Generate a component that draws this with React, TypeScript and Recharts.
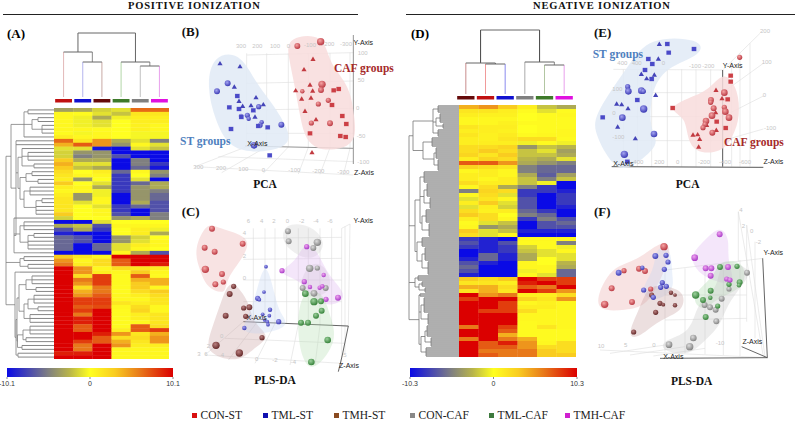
import React from 'react';
import { ScatterChart, Scatter, XAxis, YAxis, ReferenceLine, ReferenceArea } from 'recharts';

type Tuple = number[];
type Seg = [number, number, number, number];
type Lab = [number, number, string];
type TreeNode = [number, ...(TreeNode | number)[]];

// heatmap rows, one value per sample group, read top to bottom
const heatRowsA = [
  [-3.5, -3, -1.5, -1, 6.5, 6.5], [0.5, 0.3, -1, -2, 1.5, 1.5], [0.5, -0.5, -3, -0.5, 1, 1], [0.5, -0.5, -1, 0, 1, 1],
  [0.5, -0.5, -1, 0, 0.8, 0.5], [0.5, 0.5, 0.3, 0, 0.8, 0.5], [0.3, -0.3, 0.5, 0, -0.3, -0.3], [1, 0.5, 0.5, 0, -0.3, -0.3],
  [6.5, 1.5, 5, -3, -1, -5], [4, 7, 5, -4, 0.5, -1], [-1, -1, -9.5, -10, -1, -2], [-1.5, -4, -4, -10, -10, -10],
  [-1.5, -5, -4, -7, -10, -10], [3, -3, -3, -10, -5, -10], [4, -1, -1, -10, -5, -8], [3, -2, -3, -10, -6, -9.5],
  [2, 0, 1, -6, 0.5, -4], [1.5, 0.5, 0.5, -8, 0, -5], [1, -4, 0, -8, -1, -10], [3, 0, -1, -8, -6, -3],
  [1, 0.5, -3, -8, -4, -3], [0.5, 0.5, -0.5, -8, -4, -5], [1, -4, -0.5, -10, -4, -6], [1.5, -4, 0.5, -10, -4, -6],
  [1.5, -1, 0.5, -10, -3, -7], [1.5, 0, -1, -8, -6, -7], [1.5, 0, 0.5, -8, -10, -7], [3, 0, 0.5, -7, -10, -5],
  [-1.5, 0, 0, -4, -3, -5], [-10, -10, -1, 0, 0, 0], [-3, -2, -7, 0.5, 0.5, 0.5], [-7, -3, -8, 0, 1, -0.5],
  [-9, -10, -10, 0, 1, -3], [-6, -7, -10, -4, -1.5, 0], [-6, -7, -10, -4, -1, 0.5], [-6, -10, -6, -1, 1, 0.5],
  [-6, -10, -6, -1, 0.5, 0], [-10, -10, -10, 0.5, -3, -7], [3, 1.5, 0.5, 10, 10, 10], [5, 0.5, 2, 7, 10, 10],
  [6, 1, 2, 7, 10, 9], [10, 5, 0.5, 2, 1.5, 1], [10, 5, 1, 0.5, 3, 0.5], [10, 2, 8, 0.3, 7, 0.3],
  [10, 6, 8, 0.3, 4, 4], [10, 5, 8, 0.3, 3, 4], [10, 2, 6, 0.3, 3, 0.5], [10, 4, 6, 0.3, 2, 3],
  [10, 5, 7, 0.5, 1, 2], [10, 8, 8, 0.5, 0.5, 1.5], [10, 8, 8, 1.5, 1, 1.5], [10, 7, 7.5, 0.5, 2, 0.5],
  [10, 8, 10, 0.3, 2.5, 0.5], [10, 6, 10, 0.3, 1, 1.5], [10, 9, 10, 0.3, 1, 1.5], [10, 9, 10, 0.3, 0.5, 1.5],
  [10, 7, 10, 0.3, 7, 2], [10, 7, 10, 1, 7, 8], [10, 10, 9, 5, 1.5, 4], [10, 10, 7, 2, 2, 5],
  [10, 8, 7, 4, 1.5, 5], [10, 6, 10, 5, 1, 1], [10, 6, 10, 0.5, 0.5, 0.5], [9, 9, 10, 0.5, 0.5, 0.5], [10, 10, 10, 0.5, 0.5, 0.5],
];

const heatRowsD = [
  [4, 5, 3, 1, -2, -3], [1.5, 1.5, 1, 0.3, -1, 0.3], [1, 0.8, 0.8, 0, 0.3, 0.5], [0.5, 0.5, 0.5, 0, 0.3, 0.3],
  [0.5, 0.5, 0.8, 0.3, 0.3, 0.3], [1.5, 1, 1, 0, 0.3, 0.3], [1, 1, 0.8, 0, 0.3, 0.5], [1.5, 0.8, 1.2, 0.3, 0.5, 0.5],
  [1, 0.8, 1.5, 2, 2, 0.3], [1, 1, 1, -0.5, 0.3, -0.5], [2, 2, 2.5, -4, -2, -2.5], [2, 3, 2, -2, -1, -3.5],
  [2.5, 1.5, 3, -2, -2, -3], [1, 2.5, 2, -2.5, -3, -1], [7, 7, 5, -3, -4, -5], [2.5, 2, 1.5, -5, -6, -6],
  [0.5, 1, 0.5, -5, -6, -6], [1, 1, 0.5, -3, -6.5, -3.5], [1, 0.5, 1, -2, -5, -2], [2, 1, 1, -2, -0.5, -10],
  [0.5, 2, -3, -5, -8, -10], [-5, 2.5, 2, -8, -8, -9], [0.5, 2, -1, -8, -10, -8], [-1, 1.5, 0.5, -7, -10, -8],
  [1, 3, -1, -7, -10, -8], [-1, 1, -1.5, -7, -10, -9], [2, 0.8, 1, -6, -8, -10], [3, 2, 0, -5, -6, -10],
  [1, 2, 0.5, -8, -5, -7], [0.3, -1, -2, -10, -7, -6], [0.5, -4, -3, -10, -7, -7], [3, -1, -2, -9, -9, -9],
  [2, -1, 0.5, -10, -10, -10], [-8, -9, -10, 0.5, 0.5, 0.5], [-7, -9, -7, 0.3, 0.3, -5], [-8, -9, -8, -1.5, 0.3, -0.5],
  [-10, -9, -8, -2, -1, 0.5], [-10, -6, -9, -3, -1, -1], [-9, -6, -9, -3, 0, -1], [-7, -9, -10, 0.5, 0, -2.5],
  [-6, -10, -10, 0.5, 0.5, -3], [-7, -10, -10, -0.5, 0.5, -6], [-9, -10, -10, 0.5, -1, -6], [3, 2, 3, 10, 8, 8],
  [1.5, 1.5, 1, 9, 10, 8], [4, 4, 2, 7, 6, 10], [1.5, 4, 1.5, 10, 8, 5], [10, 5, 6, 1, 1, 2],
  [8, 10, 10, 2.5, 1.5, 5], [10, 10, 8, 0.5, 0.8, 0.5], [10, 10, 8, 1, 1, 0.5], [10, 8, 8, 2, 0.5, 0.5],
  [10, 10, 10, 0.5, 0.5, 0.5], [10, 10, 10, 0.5, 0.5, 0.5], [10, 10, 10, 0.3, 0.5, 0.5], [6, 10, 8, 0.3, 1.5, 0.5],
  [10, 10, 7, 0.3, 0.3, 0.3], [10, 10, 4, 0.3, 0.3, 0.3], [6, 10, 6, 4, 0.3, 0.3], [10, 7, 9, 5, 0.5, 2],
  [10, 7, 7, 5, 2, 2], [10, 6, 6, 6, 3, 2], [10, 7, 6, 6, 3, 3],
];

// row dendrograms: [depth, ...children], a plain number is that many leaves
const rowTreeA: TreeNode = [6,
  [11,
    [24, [28, 2], [32, [38, 2], [42, 3]], 1],
    [16, 2,
      [18, [22, 1, [28, 3], [34, 2]], [20, [26, [32, 2], [38, 2]], [24, [30, 3], [36, [42, 2], 3]]]],
      [14, 1, [20, [24, 3], [28, [34, 2], 3]], [40, 1]]],
  ],
  [20, [24, 2], [28, 2]],
  [15, [20, 1], [16, [17, [19, [26, [32, 3], [36, 2]], [24, [28, [34, 3], [38, 2]], [30, 3]]], [17.5, [23, [30, 3], [26, 2]], [22, 2]]], [18, 2]]],
];

const rowTreeD: TreeNode = [9,
  [13,
    [33, [38, 4], [36, [40, 5], [43, 3]], [38, 4]],
    [23, [32, 5], [34, [36, 6], [38, 6]]],
  ],
  [15,
    [20, [24, 6], [24, [27, 7], [30, 6]], [22, [26, 7], [29, 7]]],
    [17, [22, 5], [22, [25, 7], [28, 7]]],
  ],
  [15, [18, 3], [19, [22, 3], [25, 3]]],
  [19, [20, 2], [21, [24, 8], [28, 6]], [21, [25, [27, 6], [31, 5]], [26, 5]]],
];

// column dendrograms: left x, right x, height, left child height, right child height, stems
const colMergesA: [number, number, number, number, number, string, string][] = [
  [1.25, 4.25, 64, 45, 35, '#666', '#666'],
  [0.5, 2, 45, 0, 35, '#e2b8b8', '#8a8a8a'],
  [1.5, 2.5, 35, 0, 0, '#b4b4ee', '#c8aaa4'],
  [3.5, 5, 35, 0, 31, '#b2d6a8', '#8a8a8a'],
  [4.5, 5.5, 31, 0, 0, '#c0c0c0', '#e8a0ec'],
];
const colMergesD: [number, number, number, number, number, string, string][] = [
  [1.25, 4.25, 64, 31, 32, '#444', '#444'],
  [0.5, 2, 31, 0, 30, '#c88c8c', '#555'],
  [1.5, 2.5, 30, 0, 0, '#f09a9a', '#8a8aee'],
  [3.5, 5, 32, 0, 29, '#aaa', '#888'],
  [4.5, 5.5, 29, 0, 0, '#b2c6a2', '#e8a0ec'],
];
const colBarsA = ['#c01010', '#1010d0', '#650a0a', '#3e7a2a', '#808080', '#e010e0'];
const colBarsD = ['#650a0a', '#c01010', '#1010d0', '#808080', '#3e7a2a', '#e010e0'];

const colourStops: [number, string][] = [
  [-10, '#0a0ae6'], [-5, '#808080'], [-2.5, '#b8b44a'], [0, '#ffff20'], [3, '#f9cc20'], [6, '#e8791a'], [10, '#db0000'],
];
const rangeA = [-10.1, 0, 10.1];
const rangeD = [-10.3, 0, 10.3];

// (B) PCA positive, projected positions x, y and sphere size
const bHullBlue: Tuple[] = [[112, 105], [195, 95], [240, 185], [285, 240], [350, 340], [335, 385], [230, 400], [160, 380], [120, 300], [95, 200]];
const bHullRed: Tuple[] = [[335, 50], [450, 40], [460, 130], [525, 195], [540, 300], [545, 385], [400, 400], [375, 290], [360, 200], [340, 110]];
const bBlueSpheres: Tuple[] = [[158, 190, 8], [126, 214, 8], [251, 260, 7], [217, 286, 7], [221, 296, 6], [198, 288, 6], [260, 307, 6], [255, 316, 7], [319, 314, 8], [237, 376, 9]];
const bBlueSquares: Tuple[] = [[187, 228], [163, 262], [168, 327], [192, 267], [199, 291], [235, 271], [278, 322], [284, 406], [250, 318]];
const bBlueTriangles: Tuple[] = [[135, 130], [195, 139], [178, 200], [243, 232], [192, 243], [203, 258], [228, 256], [265, 253], [240, 290]];
const bRedSpheres: Tuple[] = [[367, 78, 8], [437, 65, 10], [441, 193, 10], [438, 210, 8], [382, 214, 6], [460, 241, 7], [430, 252, 7], [409, 309, 7], [465, 310, 8]];
const bRedSquares: Tuple[] = [[476, 211], [491, 207], [471, 255], [502, 288], [514, 312], [405, 340], [496, 348], [512, 351]];
const bRedTriangles: Tuple[] = [[414, 117], [387, 148], [405, 194], [362, 211], [413, 212], [380, 236], [408, 233], [390, 273], [423, 298], [411, 397]];
const bGrid: Seg[] = [
  [215, 105, 535, 98], [215, 190, 535, 183], [215, 270, 535, 265], [215, 340, 535, 340],
  [215, 100, 215, 380], [275, 100, 275, 380], [340, 100, 340, 380], [400, 100, 400, 382], [465, 100, 465, 382], [525, 98, 525, 385],
  [215, 380, 60, 440], [275, 380, 140, 458], [340, 381, 265, 460], [400, 382, 370, 462], [465, 383, 435, 463], [525, 385, 505, 465],
  [60, 440, 535, 465], [130, 410, 535, 425],
];
const bAxes: Seg[] = [[210, 378, 535, 385], [535, 45, 535, 385], [535, 385, 535, 432]];
const bTicks: Lab[] = [[198, 83, '300'], [247, 83, '200'], [300, 83, '100'], [340, 83, '0'], [405, 81, '-100'], [460, 79, '-200'], [513, 79, '-300'], [563, 104, '100'], [558, 187, '50'], [548, 270, '0'], [558, 353, '-50'], [565, 432, '-100'], [70, 446, '300'], [138, 451, '200'], [205, 453, '100'], [265, 456, '0'], [358, 457, '-100'], [430, 459, '-200'], [505, 462, '-300']];
const bAxisNames: Lab[] = [[247, 377, 'X-Axis'], [565, 76, 'Y-Axis'], [567, 464, 'Z-Axis']];

// (C) PLS-DA positive
const cHulls: [string, Tuple[]][] = [
  ['#e8a8a8', [[95, 65], [130, 85], [225, 110], [215, 160], [150, 240], [155, 285], [95, 265], [75, 210], [55, 150]]],
  ['#c89c9c', [[165, 235], [205, 280], [225, 320], [235, 370], [290, 410], [235, 445], [190, 490], [90, 460], [105, 400], [140, 300]]],
  ['#c0d4f2', [[272, 170], [300, 290], [315, 340], [345, 375], [285, 400], [190, 405], [225, 335], [245, 275]]],
  ['#cccccc', [[325, 70], [405, 70], [460, 130], [415, 185], [355, 160], [320, 125]]],
  ['#cccccc', [[400, 185], [450, 190], [480, 270], [410, 300], [365, 270]]],
  ['#dcb0f0', [[390, 120], [430, 155], [460, 230], [525, 290], [465, 325], [405, 290], [380, 240], [300, 220], [365, 185]]],
  ['#b0dcae', [[375, 270], [445, 270], [465, 350], [490, 420], [420, 515], [385, 490], [365, 400]]],
];
const cRed: Tuple[] = [[111, 86, 8], [203, 131, 8], [89, 143, 8], [119, 155, 8], [91, 208, 10], [141, 222, 8], [121, 253, 8], [145, 246, 7]];
const cBrown: Tuple[] = [[176, 259, 7], [164, 282, 8], [223, 322, 8], [206, 324, 7], [152, 347, 8], [212, 349, 7], [261, 413, 7], [123, 436, 10], [193, 459, 10]];
const cBlue: Tuple[] = [[273, 200, 5], [267, 276, 5], [248, 295, 7], [253, 299, 5], [285, 329, 6], [263, 343, 5], [283, 347, 5], [269, 360, 5], [277, 365, 5], [279, 374, 5], [311, 365, 7], [208, 384, 6]];
const cGray: Tuple[] = [[339, 94, 8], [341, 124, 8], [427, 127, 10], [415, 144, 8], [404, 205, 10], [427, 204, 7], [383, 264, 8], [417, 280, 9], [452, 264, 8]];
const cPurple: Tuple[] = [[395, 140, 7], [321, 212, 7], [446, 225, 6], [388, 245, 7], [405, 261, 6], [434, 263, 6], [442, 259, 6], [453, 298, 7], [489, 293, 8]];
const cGreen: Tuple[] = [[391, 281, 9], [417, 305, 10], [438, 304, 8], [440, 332, 8], [423, 347, 8], [378, 368, 8], [399, 368, 8], [458, 420, 9], [409, 486, 9]];
const cGrid: Seg[] = [
  [235, 85, 235, 368], [270, 85, 270, 368], [300, 85, 300, 370], [335, 85, 335, 371], [370, 85, 370, 373], [400, 85, 400, 374], [435, 85, 435, 375], [470, 85, 470, 376], [500, 85, 500, 378],
  [205, 115, 500, 112], [205, 178, 500, 175], [205, 240, 500, 240], [205, 305, 500, 305],
  [500, 85, 525, 72], [500, 378, 520, 380], [525, 72, 520, 380], [510, 80, 510, 460],
  [205, 365, 90, 465], [245, 368, 160, 480], [300, 370, 240, 490], [370, 373, 345, 495], [435, 375, 420, 495], [500, 378, 500, 490],
  [90, 465, 500, 490], [150, 415, 510, 430],
];
const cAxes: Seg[] = [[205, 365, 520, 378], [520, 378, 502, 465], [502, 465, 490, 515]];
const cTicks: Lab[] = [[220, 70, '6'], [260, 70, '4'], [297, 70, '2'], [337, 70, '0'], [380, 70, '-2'], [423, 70, '-4'], [465, 70, '-6'], [208, 106, '4'], [208, 175, '2'], [208, 240, '0'], [72, 468, '3'], [93, 468, '6'], [142, 472, '4'], [245, 484, '0'], [300, 487, '-2'], [355, 492, '-4'], [140, 414, '0'], [100, 443, '2'], [510, 470, '5']];
const cAxisNames: Lab[] = [[245, 361, 'X-Axis'], [565, 70, 'Y-Axis'], [522, 504, 'Z-Axis']];

// (E) PCA negative
const eHullBlue: Tuple[] = [[175, 50], [335, 55], [340, 105], [225, 140], [180, 220], [180, 340], [215, 370], [120, 450], [70, 445], [10, 335], [15, 280], [120, 130]];
const eHullRed: Tuple[] = [[405, 150], [445, 210], [450, 290], [430, 350], [395, 400], [310, 400], [290, 340], [285, 290], [225, 265], [320, 225], [360, 205]];
const eBlueSquares: Tuple[] = [[232, 72], [312, 87], [236, 98], [175, 117], [187, 132], [165, 150], [185, 177], [142, 240], [38, 292], [112, 425]];
const eBlueTriangles: Tuple[] = [[208, 72], [205, 116], [154, 162], [193, 164], [170, 175], [197, 225], [80, 251], [95, 253], [114, 265], [83, 320], [136, 355]];
const eBlueSpheres: Tuple[] = [[113, 200, 7], [115, 214, 9], [154, 212, 9], [160, 214, 7], [161, 267, 10], [97, 293, 9], [192, 342, 9], [103, 403, 10]];
const eRedSquares: Tuple[] = [[422, 167], [422, 185], [413, 238], [248, 264], [380, 305], [407, 324]];
const eRedTriangles: Tuple[] = [[378, 210], [396, 235], [377, 277], [350, 315], [379, 330], [309, 344], [323, 343], [329, 357], [326, 380]];
const eRedSpheres: Tuple[] = [[449, 112, 7], [403, 218, 9], [363, 240, 8], [362, 247, 7], [371, 265, 8], [403, 262, 7], [406, 275, 9], [366, 287, 9], [417, 293, 9], [348, 303, 9], [345, 313, 7], [339, 323, 7], [367, 338, 8]];
const eGrid: Seg[] = [
  [70, 148, 398, 150], [70, 218, 398, 218], [70, 290, 398, 290], [70, 362, 398, 362],
  [100, 148, 100, 440], [142, 148, 142, 440], [185, 148, 185, 440], [232, 148, 232, 440], [275, 148, 275, 440], [318, 148, 318, 440], [362, 148, 362, 440],
  [398, 150, 510, 40], [398, 218, 520, 130], [398, 290, 520, 228], [398, 362, 520, 327],
  [425, 125, 425, 440], [450, 100, 450, 440], [480, 70, 480, 440],
];
const eAxes: Seg[] = [[398, 150, 398, 440], [65, 440, 520, 442]];
const eTicks: Lab[] = [[525, 40, '200'], [530, 133, '100'], [523, 231, '0'], [540, 330, '-100'], [145, 433, '400'], [208, 433, '200'], [263, 433, '0'], [342, 433, '-200'], [405, 433, '-400'], [465, 433, '-600'], [97, 136, '400'], [140, 136, '400'], [220, 136, '0'], [315, 143, '-100'], [355, 143, '-200'], [82, 212, '100'], [72, 286, '0'], [85, 358, '-100']];
const eAxisNames: Lab[] = [[100, 437, 'X-Axis'], [428, 144, 'Y-Axis'], [550, 433, 'Z-Axis']];

// (F) PLS-DA negative
const fHulls: [string, Tuple[]][] = [
  ['#e8a8a8', [[50, 245], [85, 210], [145, 195], [220, 130], [250, 165], [205, 270], [165, 335], [110, 345], [20, 350], [25, 295]]],
  ['#c0d4f2', [[195, 155], [245, 155], [245, 240], [255, 285], [190, 325], [145, 290], [195, 225]]],
  ['#c49a9a', [[175, 265], [245, 275], [285, 295], [280, 350], [205, 375], [140, 435], [110, 420], [150, 340]]],
  ['#dcb0f0', [[390, 90], [420, 130], [410, 200], [445, 275], [345, 255], [290, 190], [345, 135]]],
  ['#a8d8a8', [[385, 195], [465, 195], [470, 280], [375, 310], [340, 355], [295, 305], [375, 245]]],
  ['#c4c4c4', [[425, 200], [495, 225], [440, 290], [405, 345], [390, 395], [325, 455], [295, 480], [215, 470], [215, 435], [305, 415], [320, 320], [385, 280], [385, 215]]],
];
const fRed: Tuple[] = [[222, 155, 10], [102, 227, 7], [147, 221, 8], [165, 228, 8], [65, 280, 8], [126, 321, 8], [44, 328, 10], [182, 282, 7]];
const fBlue: Tuple[] = [[196, 183, 8], [228, 181, 7], [234, 201, 7], [223, 223, 7], [86, 233, 8], [157, 218, 6], [217, 263, 7], [212, 277, 7], [229, 274, 7], [161, 285, 7], [190, 307, 7]];
const fBrown: Tuple[] = [[185, 300, 7], [243, 293, 6], [255, 300, 5], [255, 331, 6], [210, 325, 7], [220, 329, 5], [197, 352, 7], [131, 411, 7]];
const fPurple: Tuple[] = [[389, 118, 8], [314, 188, 9], [347, 220, 8], [364, 220, 8], [362, 242, 8], [414, 216, 8], [410, 252, 7], [420, 255, 7]];
const fGreen: Tuple[] = [[390, 216, 8], [441, 214, 7], [449, 262, 8], [447, 271, 6], [417, 268, 7], [317, 300, 10], [362, 287, 8], [361, 308, 6], [339, 315, 8], [347, 366, 8], [383, 333, 7]];
const fGray: Tuple[] = [[471, 233, 8], [417, 282, 7], [395, 311, 8], [344, 330, 8], [360, 337, 8], [377, 344, 8], [379, 379, 8], [310, 429, 9], [299, 455, 10], [237, 449, 9]];
const fGrid: Seg[] = [
  [225, 225, 520, 190], [225, 300, 470, 300], [225, 375, 470, 370],
  [225, 225, 225, 470], [285, 220, 285, 475], [345, 212, 345, 478], [400, 205, 400, 480], [450, 195, 450, 484],
  [445, 50, 520, 485], [470, 90, 525, 486], [445, 50, 445, 200], [470, 90, 470, 380], [495, 140, 495, 430],
  [30, 465, 532, 488], [60, 475, 225, 450], [120, 480, 285, 455], [190, 483, 345, 460],
];
const fAxes: Seg[] = [[518, 190, 532, 488], [455, 455, 532, 488], [210, 490, 532, 488]];
const fTicks: Lab[] = [[33, 460, '10'], [107, 457, '5'], [192, 455, '0'], [390, 451, '-10'], [453, 50, '4'], [460, 98, '2'], [485, 115, '0'], [505, 148, '-2']];
const fAxisNames: Lab[] = [[250, 491, 'X-Axis'], [550, 179, 'Y-Axis'], [487, 446, 'Z-Axis']];

const legendNames = ['CON-ST', 'TML-ST', 'TMH-ST', 'CON-CAF', 'TML-CAF', 'TMH-CAF'];
const legendColours = ['#d81010', '#1010b0', '#8a4a20', '#888888', '#3e7a3e', '#d020d0'];
const legendLefts = [192, 263, 334, 410, 489, 565];

const SANS = '"Liberation Sans", Arial, sans-serif';
const SERIF = '"Liberation Serif", "Times New Roman", serif';

const sphereColours: Record<string, [string, string]> = {
  red: ['#f6a4a4', '#b5303a'],
  blue: ['#a4a4f0', '#3232b0'],
  brown: ['#b98080', '#5e2222'],
  gray: ['#dcdcdc', '#7c7c7c'],
  purple: ['#f0a4f0', '#a434c4'],
  green: ['#9cd09c', '#2e7c32'],
};

function hexToRgb(h: string) {
  return [parseInt(h.slice(1, 3), 16), parseInt(h.slice(3, 5), 16), parseInt(h.slice(5, 7), 16)];
}

function colourFor(v: number) {
  const c = Math.max(-10, Math.min(10, v));
  for (let i = 1; i < colourStops.length; i++) {
    const [v0, c0] = colourStops[i - 1];
    const [v1, c1] = colourStops[i];
    if (c <= v1) {
      const t = (c - v0) / (v1 - v0);
      const a = hexToRgb(c0);
      const b = hexToRgb(c1);
      return `rgb(${a.map((n, k) => Math.round(n + (b[k] - n) * t)).join(',')})`;
    }
  }
  return colourStops[colourStops.length - 1][1];
}

// walks a row tree and returns its line segments in depth / leaf units
function treeSegments(root: TreeNode, edge: number) {
  const leaves: Seg[] = [];
  const branches: Seg[] = [];
  let cursor = 0;
  const walk = (node: TreeNode): number => {
    const [x, ...kids] = node;
    const ys: number[] = [];
    kids.forEach((kid) => {
      if (typeof kid === 'number') {
        for (let i = 0; i < kid; i++) {
          const y = cursor + 0.5;
          cursor += 1;
          leaves.push([x, y, edge, y]);
          ys.push(y);
        }
      } else {
        const y = walk(kid);
        branches.push([x, y, kid[0], y]);
        ys.push(y);
      }
    });
    const lo = Math.min(...ys);
    const hi = Math.max(...ys);
    branches.push([x, lo, x, hi]);
    return (lo + hi) / 2;
  };
  walk(root);
  return { leaves, branches, count: cursor };
}

const Nothing = () => null;

function segLines(list: Seg[], stroke: string, width: number) {
  return list.map((s, i) => (
    <ReferenceLine
      key={`${stroke}-${i}`}
      segment={[{ x: s[0], y: s[1] }, { x: s[2], y: s[3] }]}
      stroke={stroke}
      strokeWidth={width}
      ifOverflow="visible"
    />
  ));
}

function hull(points: Tuple[], fill: string, opacity: number, key: string) {
  return (
    <Scatter
      key={key}
      data={points.map(([x, y]) => ({ x, y }))}
      shape={Nothing}
      line={{ fill, fillOpacity: opacity, stroke: 'none' }}
      lineType="joint"
      lineJointType="basisClosed"
      isAnimationActive={false}
    />
  );
}

function spheres(points: Tuple[], colour: string) {
  return (
    <Scatter
      data={points.map(([x, y, r]) => ({ x, y, r }))}
      isAnimationActive={false}
      shape={(p: any) => <circle cx={p.cx} cy={p.cy} r={p.payload.r / 2.7} fill={`url(#sph-${colour})`} />}
    />
  );
}

function squares(points: Tuple[], colour: string) {
  return (
    <Scatter
      data={points.map(([x, y]) => ({ x, y }))}
      isAnimationActive={false}
      shape={(p: any) => <rect x={p.cx - 2.4} y={p.cy - 2.2} width={4.8} height={4.4} fill={colour} stroke="#ffffff" strokeOpacity={0.4} strokeWidth={0.4} />}
    />
  );
}

function triangles(points: Tuple[], colour: string) {
  return (
    <Scatter
      data={points.map(([x, y]) => ({ x, y }))}
      isAnimationActive={false}
      shape={(p: any) => <path d={`M${p.cx} ${p.cy - 2.4}L${p.cx + 2.6} ${p.cy + 2}L${p.cx - 2.6} ${p.cy + 2}Z`} fill={colour} />}
    />
  );
}

function labels(list: Lab[], style: any, anchor = 'middle') {
  return (
    <Scatter
      data={list.map(([x, y, t]) => ({ x, y, t }))}
      isAnimationActive={false}
      shape={(p: any) => <text x={p.cx} y={p.cy} textAnchor={anchor} {...style}>{p.payload.t}</text>}
    />
  );
}

const tickStyle = { fontFamily: SANS, fontSize: 6, fill: '#c6c6c6' };
const axisNameStyle = { fontFamily: SANS, fontSize: 7, fill: '#222222' };
const captionStyle = { fontFamily: SERIF, fontSize: 11.5, fontWeight: 700, fill: '#111111' };
const letterStyle = { fontFamily: SERIF, fontSize: 13, fontWeight: 700, fill: '#111111' };
const blueGroupStyle = { fontFamily: SERIF, fontSize: 11.5, fontWeight: 700, fill: '#4f7fbe' };
const redGroupStyle = { fontFamily: SERIF, fontSize: 11.5, fontWeight: 700, fill: '#a52a2a' };

// chart whose two axes count in thirds of a pixel, as the projected plots have no usable scale
function Panel({ left, top, width, height, children }: any) {
  return (
    <div style={{ position: 'absolute', left, top }}>
      <ScatterChart width={width} height={height} margin={{ top: 0, right: 0, bottom: 0, left: 0 }}>
        <XAxis type="number" dataKey="x" domain={[0, width * 3]} hide />
        <YAxis type="number" dataKey="y" domain={[0, height * 3]} reversed hide />
        {children}
      </ScatterChart>
    </div>
  );
}

function Heatmap({ rows, left, top, width, height }: any) {
  const cells = rows.flatMap((row: number[], r: number) => row.map((v, c) => ({ x: c + 0.5, y: r + 0.5, v })));
  const w = width / 6;
  const h = height / rows.length;
  return (
    <div style={{ position: 'absolute', left, top }}>
      <ScatterChart width={width} height={height} margin={{ top: 0, right: 0, bottom: 0, left: 0 }}>
        <XAxis type="number" dataKey="x" domain={[0, 6]} hide />
        <YAxis type="number" dataKey="y" domain={[0, rows.length]} reversed hide />
        <Scatter
          data={cells}
          isAnimationActive={false}
          shape={(p: any) => <rect x={p.cx - w / 2} y={p.cy - h / 2} width={w + 0.3} height={h + 0.3} fill={colourFor(p.payload.v)} />}
        />
      </ScatterChart>
    </div>
  );
}

function RowTree({ tree, left, top, width, height, leafStroke, leafWidth, branchStroke, branchWidth }: any) {
  const { leaves, branches, count } = treeSegments(tree, width);
  return (
    <div style={{ position: 'absolute', left, top }}>
      <ScatterChart width={width} height={height} margin={{ top: 0, right: 0, bottom: 0, left: 0 }}>
        <XAxis type="number" dataKey="x" domain={[0, width]} hide />
        <YAxis type="number" dataKey="y" domain={[0, count]} reversed hide />
        <Scatter data={leaves.map((s) => ({ x: s[0], y: s[1] }))} shape={Nothing} isAnimationActive={false} />
        {segLines(leaves, leafStroke, leafWidth)}
        {segLines(branches, branchStroke, branchWidth)}
      </ScatterChart>
    </div>
  );
}

function ColTree({ merges, bars, left, top, width, height, maxH, minH }: any) {
  return (
    <div style={{ position: 'absolute', left, top }}>
      <ScatterChart width={width} height={height} margin={{ top: 0, right: 0, bottom: 0, left: 0 }}>
        <XAxis type="number" dataKey="x" domain={[0, 6]} hide />
        <YAxis type="number" dataKey="y" domain={[minH, maxH]} hide />
        <Scatter data={merges.map((m: any) => ({ x: m[0], y: m[2] }))} shape={Nothing} isAnimationActive={false} />
        {merges.map((m: any) => segLines([[m[0], m[3], m[0], m[2]]], m[5], 1))}
        {merges.map((m: any) => segLines([[m[1], m[4], m[1], m[2]]], m[6], 1))}
        {merges.map((m: any) => segLines([[m[0], m[2], m[1], m[2]]], '#666666', 1))}
        {bars.map((c: string, i: number) => (
          <ReferenceArea key={c} x1={i + 0.06} x2={i + 0.94} y1={-5.5} y2={-2} fill={c} fillOpacity={1} stroke="none" ifOverflow="visible" />
        ))}
      </ScatterChart>
    </div>
  );
}

function ColourBar({ range, id, left, top, width }: any) {
  return (
    <div style={{ position: 'absolute', left, top }}>
      <ScatterChart width={width} height={24} margin={{ top: 0, right: 12, bottom: 0, left: 12 }}>
        <defs>
          <linearGradient id={id} x1="0" y1="0" x2="1" y2="0">
            {colourStops.map(([v, c]) => <stop key={v} offset={(v + 10) / 20} stopColor={c} />)}
          </linearGradient>
        </defs>
        <XAxis
          type="number"
          dataKey="x"
          domain={[range[0], range[2]]}
          ticks={range}
          height={15}
          axisLine={false}
          tickSize={2}
          interval={0}
          tickLine={{ stroke: '#888888' }}
          tick={{ fontFamily: SANS, fontSize: 7, fill: '#333333' }}
        />
        <YAxis type="number" dataKey="y" domain={[0, 1]} hide />
        <Scatter data={range.map((x: number) => ({ x, y: 0 }))} shape={Nothing} isAnimationActive={false} />
        <ReferenceArea x1={range[0]} x2={range[2]} y1={0} y2={1} fill={`url(#${id})`} fillOpacity={1} stroke="none" />
      </ScatterChart>
    </div>
  );
}

const App = () => (
  <div style={{ position: 'absolute', left: 0, top: 0, width: 800, height: 422, overflow: 'hidden', background: '#ffffff', fontFamily: SERIF }}>
    <svg width={0} height={0} style={{ position: 'absolute' }}>
      <defs>
        {Object.entries(sphereColours).map(([name, [hi, lo]]) => (
          <radialGradient key={name} id={`sph-${name}`} cx="0.4" cy="0.35" r="0.7">
            <stop offset="0" stopColor={hi} />
            <stop offset="1" stopColor={lo} />
          </radialGradient>
        ))}
      </defs>
    </svg>

    <div style={{ position: 'absolute', left: 128, top: 0, fontSize: 10.5, fontWeight: 700, letterSpacing: 0.8, color: '#111' }}>POSITIVE IONIZATION</div>
    <div style={{ position: 'absolute', left: 533, top: 0, fontSize: 10.5, fontWeight: 700, letterSpacing: 0.8, color: '#111' }}>NEGATIVE IONIZATION</div>
    <div style={{ position: 'absolute', left: 3, top: 14, width: 355, height: 1, background: '#222' }} />
    <div style={{ position: 'absolute', left: 406, top: 14, width: 389, height: 1, background: '#222' }} />

    <div style={{ position: 'absolute', left: 7, top: 26, fontSize: 13, fontWeight: 700 }}>(A)</div>
    <div style={{ position: 'absolute', left: 411, top: 26, fontSize: 13, fontWeight: 700 }}>(D)</div>

    <ColTree merges={colMergesA} bars={colBarsA} left={54} top={30} width={115} height={74} maxH={67} minH={-7} />
    <RowTree tree={rowTreeA} left={0} top={108} width={54} height={251} leafStroke="#666666" leafWidth={0.8} branchStroke="#808080" branchWidth={0.8} />
    <Heatmap rows={heatRowsA} left={54} top={108} width={115} height={251} />
    <ColourBar range={rangeA} id="barA" left={-5} top={368} width={190} />

    <ColTree merges={colMergesD} bars={colBarsD} left={456} top={28} width={118} height={72} maxH={66} minH={-6} />
    <RowTree tree={rowTreeD} left={400} top={105} width={59} height={252} leafStroke="#5e5e5e" leafWidth={1} branchStroke="#777777" branchWidth={0.8} />
    <Heatmap rows={heatRowsD} left={459} top={105} width={117} height={252} />
    <ColourBar range={rangeD} id="barD" left={398} top={368} width={191} />

    <Panel left={175} top={20} width={225} height={190}>
      {hull(bHullBlue, '#e1eaf6', 0.85, 'b1')}
      {hull(bHullRed, '#f8dcdc', 0.85, 'b2')}
      {segLines(bGrid, '#dddddd', 0.6)}
      {segLines(bAxes, '#777777', 0.8)}
      {spheres(bBlueSpheres, 'blue')}
      {squares(bBlueSquares, '#4a4ac8')}
      {triangles(bBlueTriangles, '#4444b8')}
      {spheres(bRedSpheres, 'red')}
      {squares(bRedSquares, '#cc3f45')}
      {triangles(bRedTriangles, '#c23a40')}
      {labels(bTicks, tickStyle)}
      {labels(bAxisNames, axisNameStyle)}
      {labels([[15, 376, 'ST groups']], blueGroupStyle, 'start')}
      {labels([[477, 157, 'CAF groups']], redGroupStyle, 'start')}
      {labels([[270, 505, 'PCA']], captionStyle)}
      {labels([[20, 48, '(B)']], letterStyle, 'start')}
    </Panel>

    <Panel left={175} top={200} width={225} height={190}>
      {cHulls.map(([c, pts], i) => hull(pts, c, 0.32, `c${i}`))}
      {segLines(cGrid, '#dddddd', 0.6)}
      {segLines(cAxes, '#555555', 0.9)}
      {spheres(cRed, 'red')}
      {spheres(cBrown, 'brown')}
      {spheres(cBlue, 'blue')}
      {spheres(cGray, 'gray')}
      {spheres(cPurple, 'purple')}
      {spheres(cGreen, 'green')}
      {labels(cTicks, tickStyle)}
      {labels(cAxisNames, axisNameStyle)}
      {labels([[300, 552, 'PLS-DA']], captionStyle)}
      {labels([[20, 48, '(C)']], letterStyle, 'start')}
    </Panel>

    <Panel left={590} top={20} width={205} height={190}>
      {hull(eHullBlue, '#e1eaf6', 0.85, 'e1')}
      {hull(eHullRed, '#f8dcdc', 0.85, 'e2')}
      {segLines(eGrid, '#dddddd', 0.6)}
      {segLines(eAxes, '#444444', 0.9)}
      {squares(eBlueSquares, '#4a4ac8')}
      {triangles(eBlueTriangles, '#4444b8')}
      {spheres(eBlueSpheres, 'blue')}
      {squares(eRedSquares, '#cc3f45')}
      {triangles(eRedTriangles, '#c23a40')}
      {spheres(eRedSpheres, 'red')}
      {labels(eTicks, tickStyle)}
      {labels(eAxisNames, axisNameStyle)}
      {labels([[8, 113, 'ST groups']], blueGroupStyle, 'start')}
      {labels([[402, 379, 'CAF groups']], redGroupStyle, 'start')}
      {labels([[293, 505, 'PCA']], captionStyle)}
      {labels([[12, 50, '(E)']], letterStyle, 'start')}
    </Panel>

    <Panel left={590} top={195} width={205} height={195}>
      {fHulls.map(([c, pts], i) => hull(pts, c, 0.32, `f${i}`))}
      {segLines(fGrid, '#dddddd', 0.6)}
      {segLines(fAxes, '#555555', 0.9)}
      {spheres(fRed, 'red')}
      {spheres(fBrown, 'brown')}
      {spheres(fBlue, 'blue')}
      {spheres(fGray, 'gray')}
      {spheres(fGreen, 'green')}
      {spheres(fPurple, 'purple')}
      {labels(fTicks, tickStyle)}
      {labels(fAxisNames, axisNameStyle)}
      {labels([[305, 570, 'PLS-DA']], captionStyle)}
      {labels([[12, 62, '(F)']], letterStyle, 'start')}
    </Panel>

    {legendNames.map((name, i) => (
      <React.Fragment key={name}>
        <div style={{ position: 'absolute', left: legendLefts[i], top: 413, width: 5, height: 5, background: legendColours[i] }} />
        <div style={{ position: 'absolute', left: legendLefts[i] + 8.5, top: 409, fontSize: 11.5, lineHeight: '13px', color: '#222' }}>{name}</div>
      </React.Fragment>
    ))}
  </div>
);

export default App;
